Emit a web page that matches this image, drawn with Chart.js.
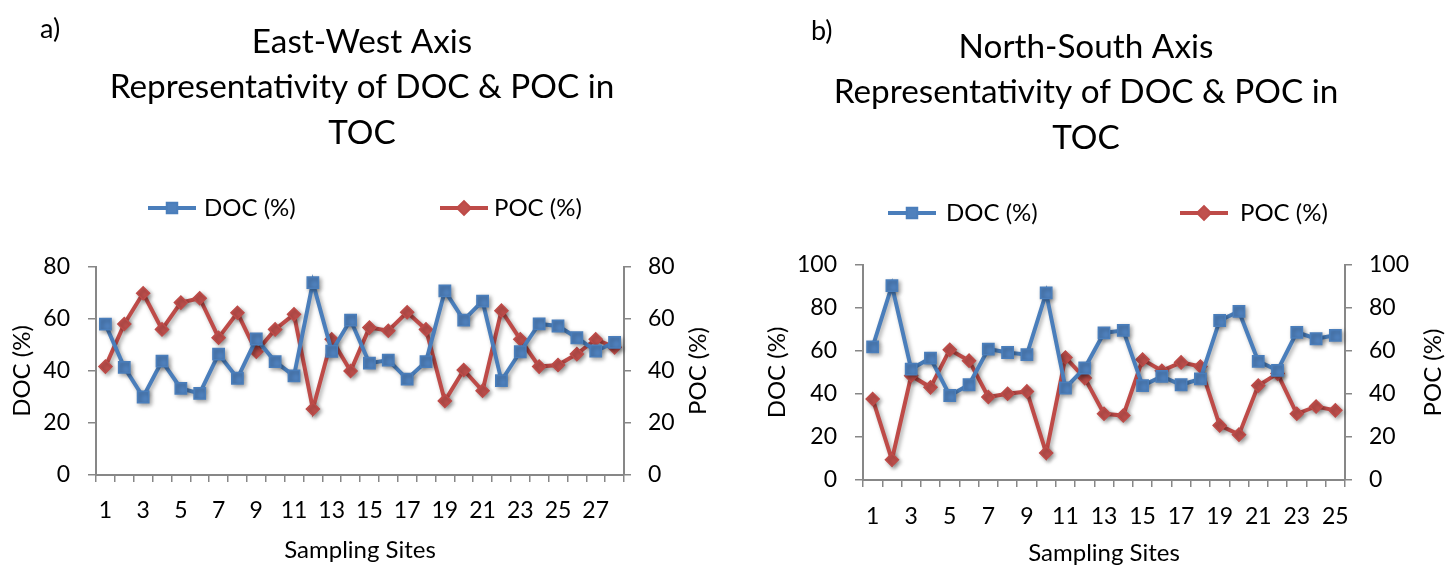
<!DOCTYPE html>
<html>
<head>
<meta charset="utf-8">
<script src="https://cdn.jsdelivr.net/npm/chart.js@4/dist/chart.umd.min.js"></script>
<style>
  body { margin: 0; background: #fff; width: 1448px; height: 568px; overflow: hidden; }
  .panel { position: absolute; top: 0; width: 724px; height: 568px; }
  #panel-a { left: 0; }
  #panel-b { left: 724px; }
  .tag { position: absolute; font: 27px Lato, sans-serif; line-height: 30px; color: #000; }
</style>
</head>
<body>
<div class="panel" id="panel-a"><canvas id="chart-a" width="724" height="568"></canvas></div>
<div class="panel" id="panel-b"><canvas id="chart-b" width="724" height="568"></canvas></div>
<div class="tag" style="left:40px;top:13px">a)</div>
<div class="tag" style="left:811px;top:15px">b)</div>
<script>
// East-West axis (a)
const ewSites = ['1','2','3','4','5','6','7','8','9','10','11','12','13','14','15','16','17','18','19','20','21','22','23','24','25','26','27','28'];
const ewDoc = [58, 41.4, 30, 43.8, 33.3, 31.4, 46.5, 37.2, 52.3, 43.6, 38.1, 74, 47.6, 59.6, 43, 44.2, 36.9, 43.6, 70.8, 59.6, 66.9, 36.3, 47.4, 58.1, 57.3, 52.8, 47.7, 51];
const ewPoc = [41.7, 58.1, 69.9, 56, 66.3, 68, 52.8, 62.4, 47.4, 56, 61.8, 25.4, 52.2, 40, 56.7, 55.5, 62.6, 56, 28.5, 40.4, 32.4, 63.2, 52.2, 41.7, 42.3, 46.5, 52.2, 49.1];
const ewTicks = [0, 20, 40, 60, 80];

// North-South axis (b)
const nsSites = ['1','2','3','4','5','6','7','8','9','10','11','12','13','14','15','16','17','18','19','20','21','22','23','24','25'];
const nsDoc = [61.9, 90.4, 51.6, 56.7, 39.3, 44.3, 60.9, 59.3, 58.3, 87, 42.8, 52.1, 68.4, 69.6, 43.9, 48.2, 44.3, 47, 74.2, 78.4, 55.2, 51, 68.7, 65.7, 67.3];
const nsPoc = [37.7, 9.4, 48.5, 43.1, 60.6, 55.5, 38.6, 40.1, 41.2, 12.6, 57, 47.4, 30.8, 30, 56, 50.8, 54.7, 52.8, 25.4, 21.1, 43.9, 49.5, 30.8, 34.2, 32.4];
const nsTicks = [0, 20, 40, 60, 80, 100];

const FONT = 'Lato, sans-serif';
const AXIS = '#878787';
const BLUE = '#4A7EBB', BLUE_FILL = '#4F81BD';
const RED = '#BE4B48', RED_FILL = '#C0504D';
const TICK_SIZE = 23, LABEL_SIZE = 24;

// soft shadow under the series, like the office chart
const shadowPlugin = {
  id: 'softShadow',
  beforeDatasetsDraw(chart) {
    const ctx = chart.ctx;
    ctx.save();
    ctx.shadowColor = 'rgba(0,0,0,0.35)';
    ctx.shadowBlur = 4;
    ctx.shadowOffsetX = 2;
    ctx.shadowOffsetY = 2;
  },
  afterDatasetsDraw(chart) { chart.ctx.restore(); }
};

// legend: line with the marker in its middle
const lineLegend = {
  id: 'lineLegend',
  afterDraw(chart, args, opts) {
    const ctx = chart.ctx;
    ctx.save();
    chart.data.datasets.forEach((ds, i) => {
      const it = opts.items[i];
      ctx.strokeStyle = ds.borderColor;
      ctx.lineWidth = 4;
      ctx.beginPath();
      ctx.moveTo(it.x1, opts.y);
      ctx.lineTo(it.x2, opts.y);
      ctx.stroke();
      Chart.helpers.drawPoint(ctx, {
        pointStyle: ds.pointStyle, radius: ds.pointStyle === 'rect' ? 6 : 5.5,
        borderWidth: 1
      }, (it.x1 + it.x2) / 2, opts.y);
      ctx.fillStyle = ds.pointBackgroundColor;
      ctx.fill();
      ctx.fillStyle = '#000';
      ctx.font = LABEL_SIZE + 'px ' + FONT;
      ctx.textAlign = 'left';
      ctx.textBaseline = 'middle';
      ctx.fillText(ds.label, it.tx, opts.y);
    });
    ctx.restore();
  }
};

// right-hand axis title, reading bottom to top like the left one
const rightTitle = {
  id: 'rightTitle',
  afterDraw(chart, args, opts) {
    const ctx = chart.ctx;
    const a = chart.chartArea;
    ctx.save();
    ctx.translate(opts.x, (a.top + a.bottom) / 2);
    ctx.rotate(-Math.PI / 2);
    ctx.fillStyle = '#000';
    ctx.font = LABEL_SIZE + 'px ' + FONT;
    ctx.textAlign = 'center';
    ctx.textBaseline = 'middle';
    ctx.fillText(opts.text, 0, 0);
    ctx.restore();
  }
};

function makeChart(id, g) {
  const W = 724, H = 568;
  const titleLh = 45.5;
  return new Chart(document.getElementById(id), {
    type: 'line',
    data: {
      labels: g.sites,
      datasets: [
        { label: 'DOC (%)', data: g.doc, yAxisID: 'y', borderColor: BLUE, borderWidth: 4,
          pointStyle: 'rect', pointRadius: 8, pointBorderWidth: 1.5,
          pointBackgroundColor: BLUE_FILL, pointBorderColor: BLUE, tension: 0 },
        { label: 'POC (%)', data: g.poc, yAxisID: 'y1', borderColor: RED, borderWidth: 4,
          pointStyle: 'rectRot', pointRadius: 6.5, pointBorderWidth: 1.5,
          pointBackgroundColor: RED_FILL, pointBorderColor: RED, tension: 0 }
      ]
    },
    options: {
      responsive: false,
      animation: false,
      layout: { padding: 0 },
      plugins: {
        legend: { display: false },
        tooltip: { enabled: false },
        title: {
          display: true,
          text: g.title,
          color: '#000',
          font: { family: FONT, size: 33.3, weight: 'normal', lineHeight: titleLh / 33.3 },
          padding: { top: g.titleTop - titleLh / 2, bottom: g.plotTop - (g.titleTop - titleLh / 2) - 3 * titleLh }
        },
        lineLegend: { y: g.legendY, items: g.legend },
        rightTitle: { text: 'POC (%)', x: g.rightTitleX }
      },
      scales: {
        x: {
          offset: true,
          grid: { offset: true, drawOnChartArea: false, drawTicks: true, tickLength: 7, color: AXIS, lineWidth: 1.5 },
          border: { color: AXIS, width: 2 },
          ticks: {
            autoSkip: false, maxRotation: 0, color: '#000', padding: g.xTickPad,
            font: { family: FONT, size: TICK_SIZE },
            callback: function (v, i) { return i % 2 === 0 ? this.getLabelForValue(v) : ''; }
          },
          title: { display: true, text: 'Sampling Sites', color: '#000',
            font: { family: FONT, size: LABEL_SIZE }, padding: { top: 0, bottom: g.xTitlePad } },
          afterFit: s => { s.height = H - g.plotBottom; }
        },
        y: {
          position: 'left', min: 0, max: g.yMax,
          afterBuildTicks: s => { s.ticks = g.yTicks.map(v => ({ value: v })); },
          grid: { drawOnChartArea: false, tickLength: 8, color: AXIS, lineWidth: 1.5 },
          border: { color: AXIS, width: 2 },
          ticks: { color: '#000', padding: 18, font: { family: FONT, size: TICK_SIZE } },
          title: { display: true, text: 'DOC (%)', color: '#000',
            font: { family: FONT, size: LABEL_SIZE }, padding: { top: g.yTitlePad, bottom: 0 } },
          afterFit: s => { s.width = g.plotLeft; }
        },
        y1: {
          position: 'right', min: 0, max: g.yMax,
          afterBuildTicks: s => { s.ticks = g.yTicks.map(v => ({ value: v })); },
          grid: { drawOnChartArea: false, tickLength: 7, color: AXIS, lineWidth: 1.5 },
          border: { color: AXIS, width: 2 },
          ticks: { color: '#000', padding: 17, font: { family: FONT, size: TICK_SIZE } },
          afterFit: s => { s.width = W - g.plotRight; }
        }
      }
    },
    plugins: [shadowPlugin, lineLegend, rightTitle]
  });
}

makeChart('chart-a', {
  sites: ewSites, doc: ewDoc, poc: ewPoc, yTicks: ewTicks, yMax: 80,
  title: ['East-West Axis', 'Representativity of DOC & POC in', 'TOC'],
  titleTop: 42, plotTop: 267, plotBottom: 475, plotLeft: 96, plotRight: 624,
  legendY: 208,
  legend: [{ x1: 148, x2: 196, tx: 204 }, { x1: 440, x2: 488, tx: 494 }],
  xTickPad: 15, xTitlePad: 3.6, yTitlePad: 7.6, rightTitleX: 698
});

makeChart('chart-b', {
  sites: nsSites, doc: nsDoc, poc: nsPoc, yTicks: nsTicks, yMax: 100,
  title: ['North-South Axis', 'Representativity of DOC & POC in', 'TOC'],
  titleTop: 47, plotTop: 265, plotBottom: 480, plotLeft: 139, plotRight: 621,
  legendY: 213,
  legend: [{ x1: 164, x2: 212, tx: 222 }, { x1: 456, x2: 504, tx: 516 }],
  xTickPad: 16, xTitlePad: 0, yTitlePad: 38.6, rightTitleX: 709
});
</script>
</body>
</html>
